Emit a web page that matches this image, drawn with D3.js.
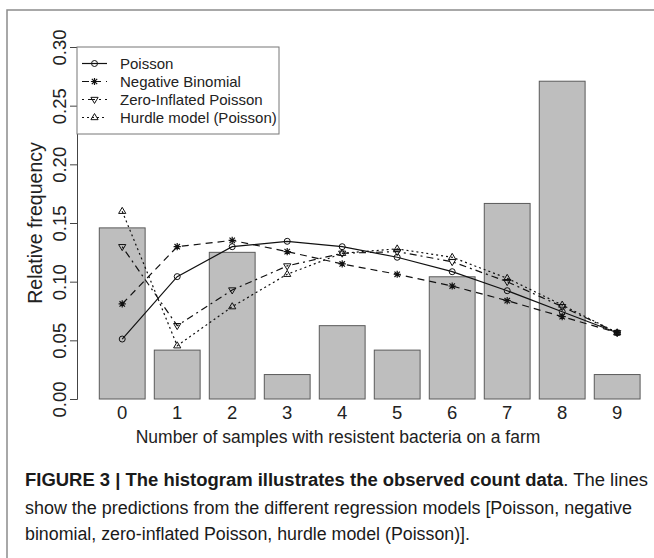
<!DOCTYPE html>
<html><head><meta charset="utf-8">
<script src="https://cdn.jsdelivr.net/npm/d3@7"></script>
<style>body{margin:0;background:#fff}svg{display:block}text{font-family:"Liberation Sans",Arial,sans-serif}</style>
</head><body>
<svg id="c" width="654" height="558"></svg>
<script>
const categories = [0,1,2,3,4,5,6,7,8,9];
const observed = [7/48, 2/48, 6/48, 1/48, 3/48, 2/48, 5/48, 8/48, 13/48, 1/48];
const poisson = [0.0511,0.1043,0.1298,0.1344,0.1298,0.1208,0.1085,0.0923,0.0744,0.0565];
const negbin  = [0.0810,0.1298,0.1352,0.1256,0.1151,0.1063,0.0963,0.0838,0.0702,0.0565];
const zip     = [0.1298,0.0625,0.0929,0.1134,0.1242,0.1256,0.1170,0.1000,0.0787,0.0565];
const hurdle  = [0.1600,0.0454,0.0787,0.1063,0.1242,0.1280,0.1208,0.1029,0.0801,0.0565];
const yTicks = [0,0.05,0.10,0.15,0.20,0.25,0.30];
const seriesNames = ["Poisson","Negative Binomial","Zero-Inflated Poisson","Hurdle model (Poisson)"];

const svg = d3.select("#c");
const x = d3.scaleBand().domain(categories).range([99.3, 640.1]).paddingInner(1/6).paddingOuter(0);
const y = d3.scaleLinear().domain([0,0.3]).range([399,47]);

// frame
svg.append("path").attr("d","M7,558 V10 H654").attr("fill","none").attr("stroke","#8c8c8c").attr("stroke-width",1.5);

// bars
svg.selectAll("rect.bar").data(categories).join("rect")
  .attr("x", d=>x(d)).attr("width", x.bandwidth())
  .attr("y", d=>y(observed[d])).attr("height", d=>y(0)-y(observed[d]))
  .attr("fill","#bebebe").attr("stroke","#5a5a5a").attr("stroke-width",1);

// y axis
const yAxis = d3.axisLeft(y).tickValues(yTicks).tickFormat(d3.format(".2f")).tickSize(7).tickPadding(5);
const ga = svg.append("g").attr("transform","translate(77,0)").call(yAxis);
ga.select(".domain").attr("stroke","#444");
ga.selectAll(".tick line").attr("stroke","#444");
ga.selectAll(".tick text").attr("font-size",18.5).attr("fill","#222")
  .attr("font-family","Liberation Sans, Arial, sans-serif")
  .attr("text-anchor","middle").attr("dy",0).attr("x",0)
  .attr("transform","translate(-11,0) rotate(-90)");

// x tick labels (no axis line)
const gx = svg.append("g").attr("transform","translate(0,399)").call(d3.axisBottom(x).tickSize(0).tickPadding(7));
gx.select(".domain").remove();
gx.selectAll(".tick text").attr("font-size",18.5).attr("fill","#222").attr("font-family","Liberation Sans, Arial, sans-serif");

// axis titles
svg.append("text").attr("x",338).attr("y",443).attr("text-anchor","middle").attr("font-size",17.5).attr("fill","#222")
  .text("Number of samples with resistent bacteria on a farm");
svg.append("text").attr("transform","translate(42,223) rotate(-90)").attr("text-anchor","middle").attr("font-size",19.5).attr("fill","#222")
  .text("Relative frequency");

// symbols
function drawSym(g, type, cx, cy){
  const s = 3.6;
  if(type===0){ g.append("circle").attr("cx",cx).attr("cy",cy).attr("r",3).attr("fill","none").attr("stroke","#111").attr("stroke-width",1); }
  else if(type===1){
    const p = `M${cx-s},${cy}H${cx+s}M${cx},${cy-s}V${cy+s}M${cx-s*0.75},${cy-s*0.75}L${cx+s*0.75},${cy+s*0.75}M${cx-s*0.75},${cy+s*0.75}L${cx+s*0.75},${cy-s*0.75}`;
    g.append("path").attr("d",p).attr("stroke","#111").attr("stroke-width",1.2).attr("fill","none");
  } else if(type===2){
    g.append("path").attr("d",`M${cx-s},${cy-s*0.6}L${cx+s},${cy-s*0.6}L${cx},${cy+s*1.1}Z`).attr("fill","none").attr("stroke","#111").attr("stroke-width",1);
  } else {
    g.append("path").attr("d",`M${cx-s},${cy+s*0.6}L${cx+s},${cy+s*0.6}L${cx},${cy-s*1.1}Z`).attr("fill","none").attr("stroke","#111").attr("stroke-width",1);
  }
}
const series = [poisson, negbin, zip, hurdle];
const dashes = [null, "7,5", "2,4,7,4", "2,3"];
const line = d3.line().x((d,i)=>x(categories[i])+x.bandwidth()/2).y(d=>y(d));
series.forEach((vals,k)=>{
  const g = svg.append("g");
  g.append("path").attr("d", line(vals)).attr("fill","none").attr("stroke","#111").attr("stroke-width",1.2)
    .attr("stroke-dasharray", dashes[k]);
  vals.forEach((v,i)=> drawSym(g, k, x(categories[i])+x.bandwidth()/2, y(v)));
});

// legend
const lg = svg.append("g");
lg.append("rect").attr("x",77).attr("y",47).attr("width",202).attr("height",87).attr("fill","#fff").attr("stroke","#777").attr("stroke-width",1);
seriesNames.forEach((nm,k)=>{
  const yy = 63.5 + 18*k;
  lg.append("line").attr("x1",82).attr("x2",107).attr("y1",yy).attr("y2",yy).attr("stroke","#111").attr("stroke-width",1.2).attr("stroke-dasharray",dashes[k]);
  drawSym(lg, k, 94.5, yy);
  lg.append("text").attr("x",120).attr("y",yy+5.5).attr("font-size",15).attr("fill","#222").text(nm);
});

// caption
const cap = svg.append("g").attr("font-size",18).attr("fill","#1a1a1a");
const l1 = cap.append("text").attr("x",25).attr("y",486).attr("textLength",623).attr("lengthAdjust","spacingAndGlyphs");
l1.append("tspan").attr("font-weight","bold").text("FIGURE 3 | The histogram illustrates the observed count data");
l1.append("tspan").text(". The lines");
cap.append("text").attr("x",25).attr("y",514).attr("textLength",607).attr("lengthAdjust","spacingAndGlyphs")
  .text("show the predictions from the different regression models [Poisson, negative");
cap.append("text").attr("x",25).attr("y",540).attr("textLength",445).attr("lengthAdjust","spacingAndGlyphs")
  .text("binomial, zero-inflated Poisson, hurdle model (Poisson)].");
</script>
</body></html>
